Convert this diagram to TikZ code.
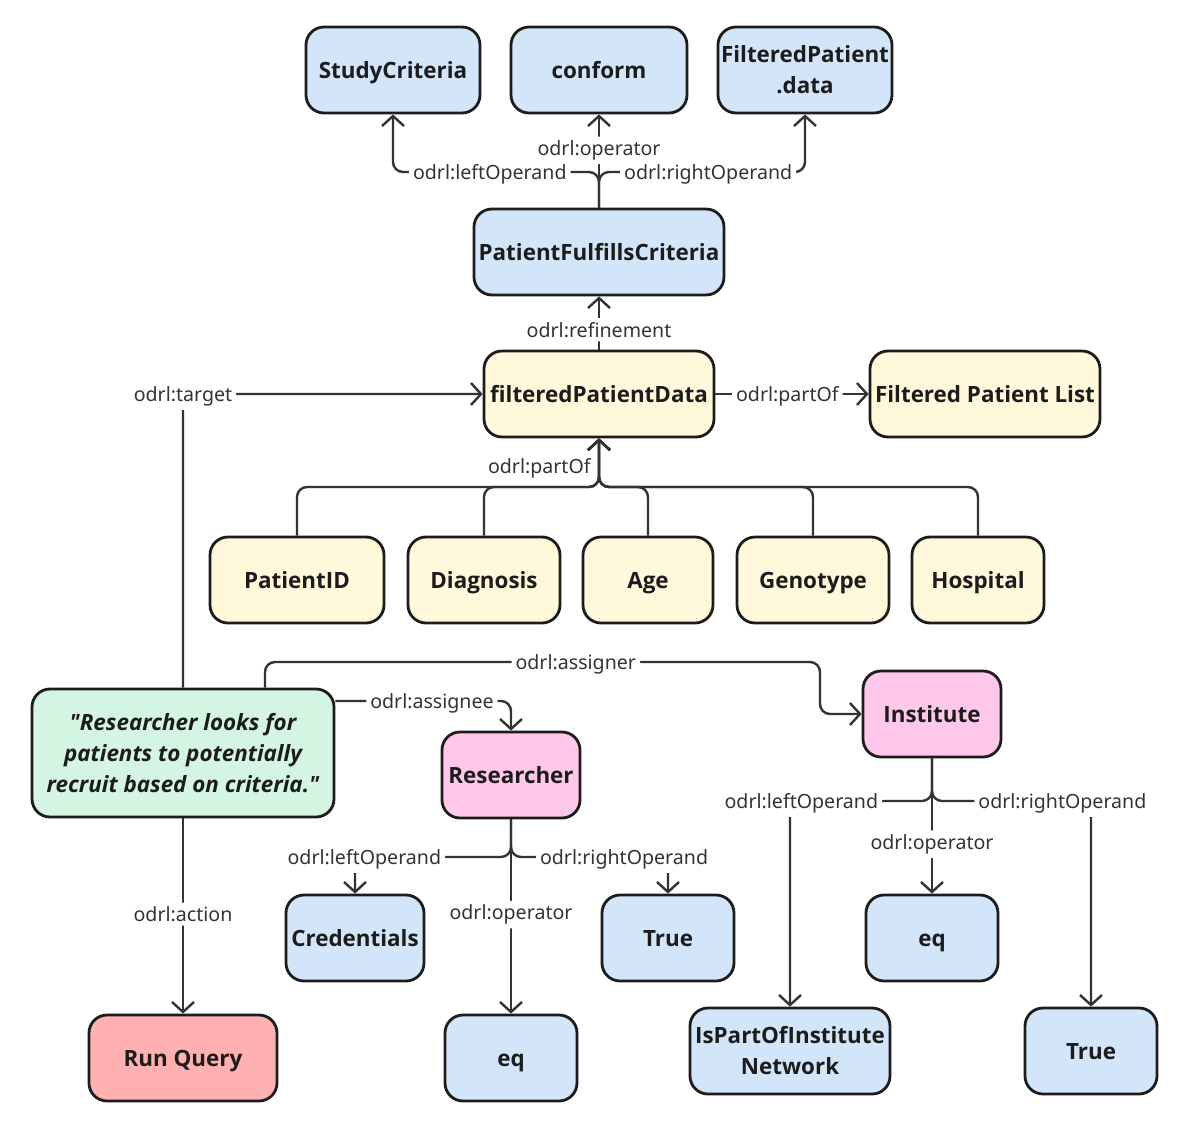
\documentclass[tikz,border=0pt]{standalone}
\usepackage{fontspec}
\setmainfont{Noto Sans}
\newfontfamily\boxfont{Open Sans}
\usetikzlibrary{arrows.meta}

\definecolor{critblue}{HTML}{D3E6F9}
\definecolor{datayellow}{HTML}{FFF8DA}
\definecolor{rulegreen}{HTML}{D3F5E1}
\definecolor{partypink}{HTML}{FFC8EA}
\definecolor{actionred}{HTML}{FFB1B1}
\definecolor{edge}{HTML}{1C1C1C}
\definecolor{wire}{HTML}{333333}

\begin{document}
\begin{tikzpicture}[
  x=0.5pt, y=-0.5pt,
  box/.style={draw=edge, line width=1.4pt, rounded corners=9pt, align=center, minimum height=43pt, inner sep=1.5pt,
    text=edge, text height=8pt, text depth=0pt, font=\boxfont\fontsize{11.2}{15.5}\selectfont\bfseries},
  twolines/.style={text height={}, text depth={}},
  bluebox/.style={box, fill=critblue},
  yellowbox/.style={box, fill=datayellow},
  greenbox/.style={box, fill=rulegreen},
  pinkbox/.style={box, fill=partypink},
  redbox/.style={box, fill=actionred},
  arrow/.style={-{Straight Barb[length=5pt, width=11pt]}, line width=1.2pt, draw=wire, rounded corners=5pt},
  lbl/.style={fill=white, text=wire, font=\fontsize{9.8}{11}\selectfont, inner sep=2pt, yshift=-1pt}
]
\useasboundingbox (0,0) rectangle (1200,1141);

% constraint of the refinement
\node[bluebox, minimum width=87pt] (crit) at (393,70) {StudyCriteria};
\node[bluebox, minimum width=88pt] (conform) at (599,70) {conform};
\node[bluebox, twolines, minimum width=87pt] (fpdata) at (805,70) {FilteredPatient\\.data};
\node[bluebox, minimum width=125pt] (fulfils) at (599,252) {PatientFulfillsCriteria};

% target asset and its parts
\node[yellowbox, minimum width=115pt] (fpd) at (599,394) {filteredPatientData};
\node[yellowbox, minimum width=115pt] (fpl) at (985,394) {Filtered Patient List};
\node[yellowbox, minimum width=87pt] (pid) at (297,580) {PatientID};
\node[yellowbox, minimum width=76pt] (diag) at (484,580) {Diagnosis};
\node[yellowbox, minimum width=65pt] (age) at (648,580) {Age};
\node[yellowbox, minimum width=76pt] (geno) at (813,580) {Genotype};
\node[yellowbox, minimum width=66pt] (hosp) at (978,580) {Hospital};

% rule, parties and action
\node[greenbox, twolines, minimum width=151pt, minimum height=64pt] (goal) at (183,753)
  {\itshape\textquotedbl Researcher looks for\\\itshape patients to potentially\\\itshape recruit based on criteria.\textquotedbl};
\node[pinkbox, minimum width=69pt] (researcher) at (511,775) {Researcher};
\node[pinkbox, minimum width=69pt] (institute) at (932,714) {Institute};
\node[redbox, minimum width=94pt] (query) at (183,1058) {Run Query};

% party constraints
\node[bluebox, minimum width=69pt] (cred) at (355,938) {Credentials};
\node[bluebox, minimum width=66pt] (trueA) at (668,938) {True};
\node[bluebox, minimum width=66pt] (eqA) at (511,1058) {eq};
\node[bluebox, minimum width=66pt] (eqB) at (932,938) {eq};
\node[bluebox, twolines, minimum width=100pt] (network) at (790,1051) {IsPartOfInstitute\\Network};
\node[bluebox, minimum width=66pt] (trueB) at (1091,1051) {True};

\coordinate (topfork) at (599,172);
\coordinate (treebar) at (599,487);
\coordinate (bend) at (820,662);
\coordinate (resfork) at (511,857);
\coordinate (instfork) at (932,801);

% refinement constraint
\draw[arrow] (fulfils.north) -- node[lbl, pos=0.635]{odrl:operator} (conform.south);
\draw[arrow] (fulfils.north) -- (topfork) -| node[lbl, pos=0.265]{odrl:leftOperand} (crit.south);
\draw[arrow] (fulfils.north) -- (topfork) -| node[lbl, pos=0.265]{odrl:rightOperand} (fpdata.south);
\draw[arrow] (fpd.north) -- node[lbl, pos=0.41]{odrl:refinement} (fulfils.south);
\draw[arrow] (fpd.east) -- node[lbl, pos=0.47]{odrl:partOf} (fpl.west);

% parts
\foreach \part in {pid,diag,age,geno,hosp}
  \draw[arrow] (\part.north) |- (treebar) -- (fpd.south);
\path (treebar) -- node[lbl, pos=0.42, anchor=east, xshift=-2pt]{odrl:partOf} (fpd.south);

% rule
\draw[arrow] (goal.north) |- node[lbl, pos=0.5]{odrl:target} (fpd.west);
\draw[arrow] ([xshift=41pt]goal.north) |- node[lbl, pos=0.78]{odrl:assigner} (bend) |- (institute.west);
\draw[arrow] ([yshift=26pt]goal.east) -| node[lbl, pos=0.275]{odrl:assignee} (researcher.north);
\draw[arrow] (goal.south) -- node[lbl, pos=0.48]{odrl:action} (query.north);

% researcher constraint
\draw[arrow] (researcher.south) -- node[lbl, pos=0.48]{odrl:operator} (eqA.north);
\draw[arrow] (researcher.south) -- (resfork) -| node[lbl, pos=0.47]{odrl:leftOperand} (cred.north);
\draw[arrow] (researcher.south) -- (resfork) -| node[lbl, pos=0.36]{odrl:rightOperand} (trueA.north);

% institute constraint
\draw[arrow] (institute.south) -- node[lbl, pos=0.62]{odrl:operator} (eqB.north);
\draw[arrow] (institute.south) -- (instfork) -| node[lbl, pos=0.46]{odrl:leftOperand} (network.north);
\draw[arrow] (institute.south) -- (instfork) -| node[lbl, pos=0.41]{odrl:rightOperand} (trueB.north);
\end{tikzpicture}
\end{document}
